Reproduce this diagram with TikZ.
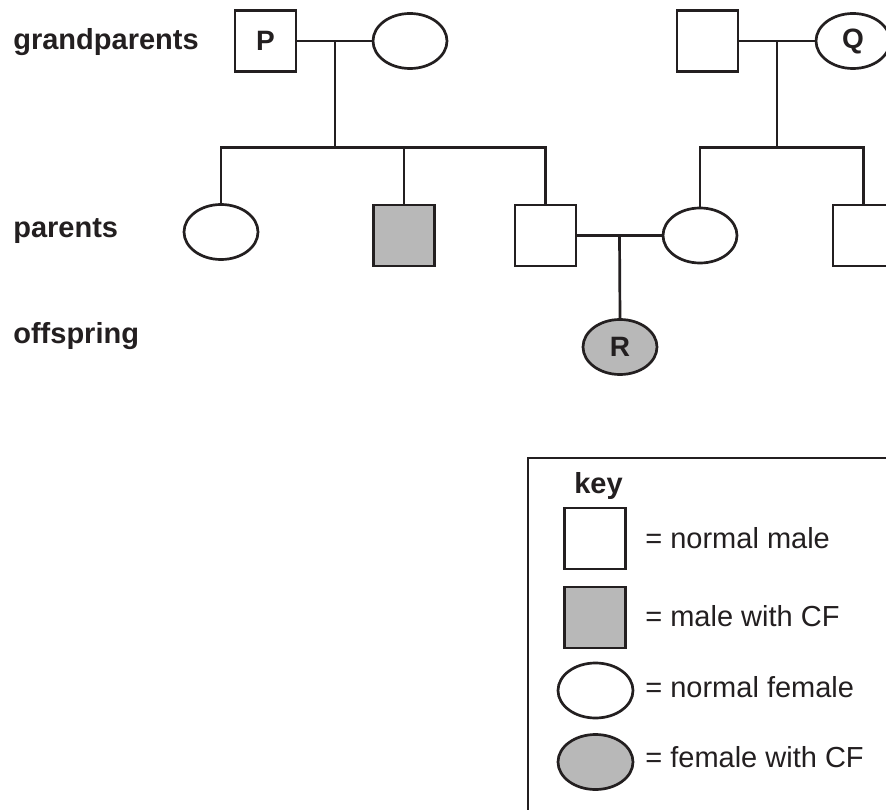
\documentclass[tikz,border=0pt]{standalone}
\usepackage{fontspec}
\setmainfont{Liberation Sans}
\usetikzlibrary{shapes.geometric}
\definecolor{ink}{HTML}{231F20}
\definecolor{cf}{HTML}{B8B8B8}
\begin{document}
\begin{tikzpicture}[x=1pt,y=-1pt,
  line width=2.7pt, draw=ink,
  every node/.style={text=ink, font=\fontsize{29}{34}\selectfont},
  male/.style={draw, rectangle, minimum width=61pt, minimum height=61pt, inner sep=0pt, fill=white, font=\fontsize{28}{32}\selectfont\bfseries},
  female/.style={draw, ellipse, minimum width=74pt, minimum height=55pt, inner sep=0pt, fill=white, font=\fontsize{28}{32}\selectfont\bfseries},
  affected/.style={fill=cf},
  rowlabel/.style={anchor=base west, inner sep=0pt, font=\fontsize{29}{34}\selectfont\bfseries},
  keytext/.style={anchor=base west, inner sep=0pt}]
\useasboundingbox (0,0) rectangle (886,810);
\clip (0,0) rectangle (886,810);
\fill[white] (0,0) rectangle (886,810);

% row labels
\node[rowlabel] (lg) at (12,50) {grandparents};
\node[rowlabel] (lp) at (12,238) {parents};
\node[rowlabel] (lo) at (12,343) {offspring};

% grandparents
\node[male] (P) at (265.5,41) {P};
\node[female] (gm1) at (410,41) {};
\node[male] (gf2) at (707.5,41) {};
\node[female] (Q) at (853,41) {Q};

% parents
\node[female] (c1) at (221,232) {};
\node[male, affected] (c2) at (404,235.5) {};
\node[male] (c3) at (545.5,235.5) {};
\node[female] (c4) at (700,235.5) {};
\node[male] (c5) at (863.5,235.5) {};

% offspring
\node[female, affected] (R) at (620,347) {R};

% connectors
\coordinate (m1) at (335,41);
\coordinate (s1) at (335,147.5);
\coordinate (m2) at (777,41);
\coordinate (s2) at (777,147.5);
\coordinate (m3) at (619.5,235.5);

\draw (P.east) -- (gm1.west);
\draw (m1) -- (s1);
\draw (c1.north) |- (s1) -| (c3.north);
\draw (c2.north) -- (c2.north |- s1);

\draw (gf2.east) -- (Q.west);
\draw (m2) -- (s2);
\draw (c4.north) |- (s2) -| (c5.north);

\draw (c3.east) -- (c4.west);
\draw (m3) -- (R.north);

% key
\coordinate (kb1) at (528,850);
\coordinate (kb2) at (900,458);
\draw (kb1) |- (kb2);
\node[rowlabel] (key) at (573,493) {key};
\node[male] (k1) at (595,538.5) {};
\node[male, affected] (k2) at (595,617.5) {};
\node[female, minimum width=75pt] (k3) at (595.5,690.5) {};
\node[female, affected, minimum width=75pt] (k4) at (595.5,762) {};
\node[keytext] (t1) at (644,548) {= normal male};
\node[keytext] (t2) at (644,626) {= male with CF};
\node[keytext] (t3) at (644,697) {= normal female};
\node[keytext] (t4) at (644,767) {= female with CF};
\end{tikzpicture}
\end{document}
